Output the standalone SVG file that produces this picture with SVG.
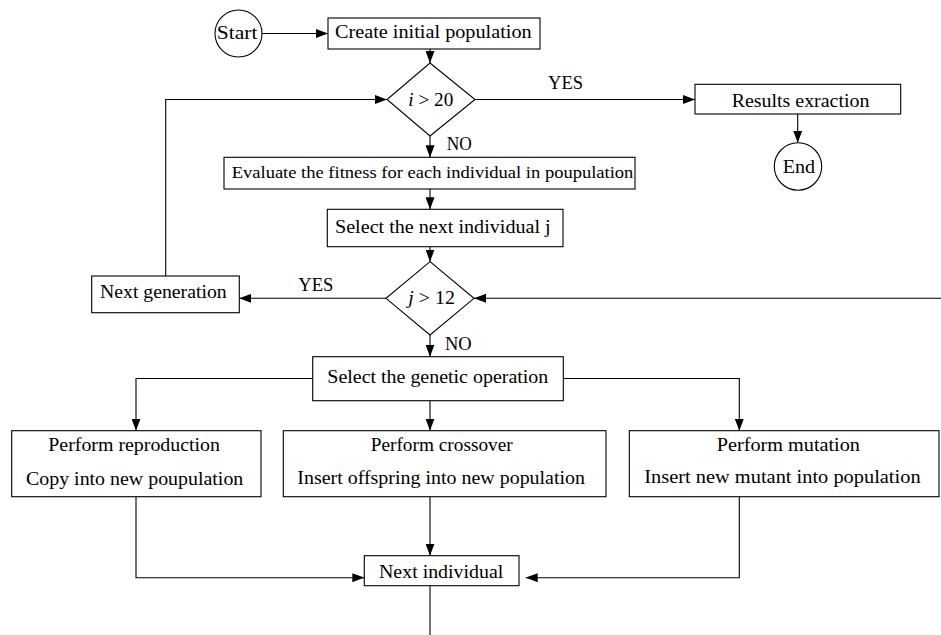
<svg xmlns="http://www.w3.org/2000/svg" width="941" height="635" viewBox="0 0 941 635">
<style>
.box{fill:#fff;stroke:#000;stroke-width:1.1}
.ln{fill:none;stroke:#000;stroke-width:1.1}
.t{font-family:"Liberation Serif","Times New Roman",serif;font-size:19.5px;fill:#000}
.s{font-size:17.5px}
.i{font-style:italic}
</style>
<defs>
<marker id="ar" markerUnits="userSpaceOnUse" markerWidth="12" markerHeight="9" refX="12" refY="4.5" orient="auto">
<path d="M0,0 L12,4.5 L0,9 z" fill="#000"/>
</marker>
</defs>
<rect width="941" height="635" fill="#fff"/>
<g id="connectors" class="ln" marker-end="url(#ar)">
<path d="M262,33.5 L328,33.5"/>
<path d="M430,49 L430,63"/>
<path d="M475,99.5 L695,99.5"/>
<path d="M797.7,114 L797.7,142.7"/>
<path d="M430,136 L430,157.3"/>
<path d="M430,189 L430,209.3"/>
<path d="M430,246.7 L430,261.7"/>
<path d="M386,298.3 L239.3,298.3"/>
<path d="M165.7,276 L165.7,99.5 L387,99.5"/>
<path d="M941,298.3 L474,298.3"/>
<path d="M430,335 L430,356.7"/>
<path d="M312.7,378.5 L136,378.5 L136,430.7"/>
<path d="M430,400.7 L430,430.7"/>
<path d="M563.3,378.5 L739.3,378.5 L739.3,430.7"/>
<path d="M136,496.7 L136,577.7 L364.3,577.7"/>
<path d="M430,496.7 L430,555.7"/>
<path d="M739.3,496.7 L739.3,577.7 L525.7,577.7"/>
<path d="M430,585.7 L430,635" marker-end="none"/>
</g>
<g id="start"><circle class="box" cx="238.5" cy="33.5" r="23.5"/><text class="t" x="216.7" y="39" textLength="40.7" lengthAdjust="spacingAndGlyphs">Start</text></g>
<g id="create"><rect class="box" x="328" y="18" width="212" height="31"/><text class="t" x="335" y="38" textLength="196.7" lengthAdjust="spacingAndGlyphs">Create initial population</text></g>
<g id="cond-i"><polygon class="box" points="430,63 475,99.5 430,136 387,99.5"/><text class="t" x="408.3" y="106" textLength="45" lengthAdjust="spacingAndGlyphs"><tspan class="i">i</tspan> &gt; 20</text></g>
<g id="results"><rect class="box" x="695" y="84.3" width="205.7" height="29.7"/><text class="t" x="731.7" y="106.7" textLength="137.7" lengthAdjust="spacingAndGlyphs">Results exraction</text></g>
<g id="end"><circle class="box" cx="798" cy="166.5" r="23.7"/><text class="t" x="782.7" y="173.3" textLength="32.3" lengthAdjust="spacingAndGlyphs">End</text></g>
<g id="evaluate"><rect class="box" x="224" y="157.3" width="411" height="31.7"/><text class="t s" x="231.7" y="178.3" textLength="401.7" lengthAdjust="spacingAndGlyphs">Evaluate the fitness for each individual in poupulation</text></g>
<g id="select-next"><rect class="box" x="327.3" y="209.3" width="235.7" height="37.4"/><text class="t" x="335" y="232.7" textLength="215.7" lengthAdjust="spacingAndGlyphs">Select the next individual j</text></g>
<g id="cond-j"><polygon class="box" points="430,261.7 474,298.3 430,335 386,298.3"/><text class="t" x="408.3" y="304" textLength="46.7" lengthAdjust="spacingAndGlyphs"><tspan class="i">j</tspan> &gt; 12</text></g>
<g id="next-generation"><rect class="box" x="91.7" y="276" width="147.6" height="36.7"/><text class="t" x="100" y="298.3" textLength="126.7" lengthAdjust="spacingAndGlyphs">Next generation</text></g>
<g id="select-genetic"><rect class="box" x="312.7" y="356.7" width="250.6" height="44"/><text class="t" x="327.3" y="383.3" textLength="221" lengthAdjust="spacingAndGlyphs">Select the genetic operation</text></g>
<g id="reproduction"><rect class="box" x="11.7" y="430.7" width="249.3" height="66"/><text class="t" x="48.3" y="451" textLength="171.7" lengthAdjust="spacingAndGlyphs">Perform reproduction</text><text class="t" x="26" y="485" textLength="217.3" lengthAdjust="spacingAndGlyphs">Copy into new poupulation</text></g>
<g id="crossover"><rect class="box" x="283.3" y="430.7" width="322.7" height="66"/><text class="t" x="370.7" y="451" textLength="142" lengthAdjust="spacingAndGlyphs">Perform crossover</text><text class="t" x="297.3" y="483.5" textLength="287.7" lengthAdjust="spacingAndGlyphs">Insert offspring into new population</text></g>
<g id="mutation"><rect class="box" x="629.3" y="430.7" width="309.7" height="66"/><text class="t" x="716.7" y="451" textLength="143.3" lengthAdjust="spacingAndGlyphs">Perform mutation</text><text class="t" x="644.3" y="483" textLength="276.3" lengthAdjust="spacingAndGlyphs">Insert new mutant into population</text></g>
<g id="next-individual"><rect class="box" x="364.3" y="555.7" width="154.7" height="30"/><text class="t" x="379" y="578.3" textLength="124.3" lengthAdjust="spacingAndGlyphs">Next individual</text></g>
<g id="labels">
<text class="t" x="548" y="89.3" textLength="35" lengthAdjust="spacingAndGlyphs">YES</text>
<text class="t" x="446.7" y="150" textLength="25" lengthAdjust="spacingAndGlyphs">NO</text>
<text class="t" x="298.3" y="290.7" textLength="35" lengthAdjust="spacingAndGlyphs">YES</text>
<text class="t" x="445" y="350" textLength="26.7" lengthAdjust="spacingAndGlyphs">NO</text>
</g>
</svg>
